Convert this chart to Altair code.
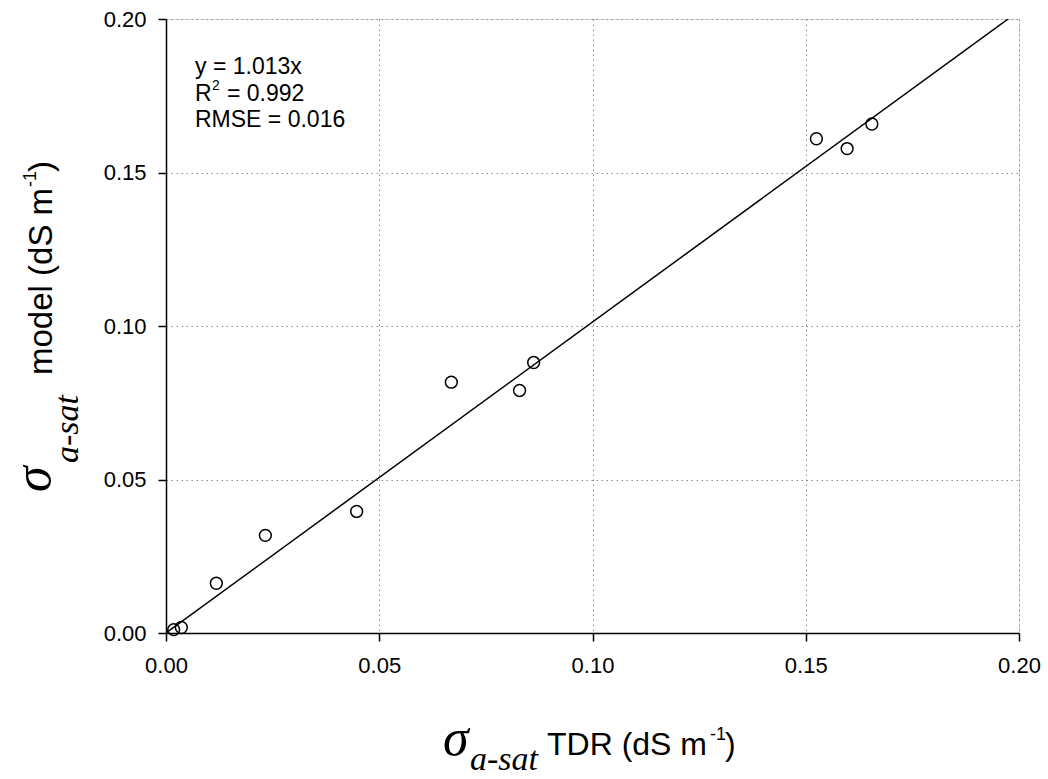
import altair as alt
import pandas as pd

# data
tdr = [0.0018, 0.0036, 0.0118, 0.0233, 0.0447, 0.0669, 0.0829, 0.0862, 0.1525, 0.1597, 0.1655]
model = [0.0011, 0.0018, 0.0162, 0.0318, 0.0396, 0.0817, 0.0790, 0.0881, 0.1610, 0.1578, 0.1658]
slope = 1.013
line_x = [0.0, 0.20]
tick_vals = [0.0, 0.05, 0.10, 0.15, 0.20]
annot_eq = "y = 1.013x"
annot_r2 = ["R", "2", "= 0.992"]
annot_rmse = "RMSE = 0.016"

W, H = 853, 614
SANS = "Liberation Sans"
SERIF = "Liberation Serif"

pts = pd.DataFrame({"tdr": tdr, "model": model})
fit = pd.DataFrame({"tdr": line_x, "model": [slope * v for v in line_x]})

xs = alt.Scale(domain=[0, 0.2], nice=False, zero=False, padding=0)
ys = alt.Scale(domain=[0, 0.2], nice=False, zero=False, padding=0)


def make_axis(pad):
    return alt.Axis(values=tick_vals, format=".2f", title=None, grid=True,
                    gridDash=[1.5, 3.5], gridColor="#8c8c8c", gridWidth=1,
                    domainColor="black", domainWidth=1.5, tickColor="black",
                    tickWidth=1.5, tickSize=8, labelFont=SANS, labelFontSize=22,
                    labelColor="black", labelPadding=pad, labelFlush=False,
                    labelOverlap=False)


line = alt.Chart(fit).mark_line(color="black", strokeWidth=1.5, clip=True).encode(
    x=alt.X("tdr:Q", scale=xs, axis=make_axis(14)),
    y=alt.Y("model:Q", scale=ys, axis=make_axis(12)),
)

points = alt.Chart(pts).mark_point(shape="circle", filled=False, size=140,
                                   color="black", strokeWidth=1.5, opacity=1).encode(
    x=alt.X("tdr:Q", scale=xs),
    y=alt.Y("model:Q", scale=ys),
)


def txt(s, x, y, font, size, style="normal", angle=None):
    kw = dict(align="left", baseline="alphabetic", font=font, fontSize=size,
              fontStyle=style, color="black", text=s)
    if angle is not None:
        kw["angle"] = angle
    return alt.Chart(pd.DataFrame({"a": [0]})).mark_text(**kw).encode(
        x=alt.value(x), y=alt.value(y))


annot = [
    txt(annot_eq, 29, 55, SANS, 23),
    txt(annot_r2[0], 29, 81.5, SANS, 23),
    txt(annot_r2[1], 46, 71, SANS, 14),
    txt(annot_r2[2], 61, 81.5, SANS, 23),
    txt(annot_rmse, 29, 108, SANS, 23),
]

# x-axis title pieces
xt = [
    txt("\u03c3", 277, 736, SERIF, 52, "italic"),
    txt("a-sat", 304, 751, SERIF, 34, "italic"),
    txt("TDR (dS m", 381, 736, SANS, 32),
    txt("-1", 544, 721, SANS, 18),
    txt(")", 559, 736, SANS, 32),
]
# y-axis title pieces (rotated)
yt = [
    txt("\u03c3", -116, 473, SERIF, 52, "italic", 270),
    txt("a-sat", -88, 444, SERIF, 34, "italic", 270),
    txt("model (dS m", -114, 356, SANS, 33, angle=270),
    txt("-1", -130, 168, SANS, 18, angle=270),
    txt(")", -114, 153, SANS, 33, angle=270),
]

chart = alt.layer(line, points, *annot, *xt, *yt).properties(
    width=W, height=H,
    autosize=alt.AutoSizeParams(type="none"),
    padding={"left": 166, "top": 19, "right": 29, "bottom": 146},
).configure_view(stroke="black", strokeWidth=1.5).configure(background="white")

chart.save("out.html", embed_options={"renderer": "svg", "actions": False})
